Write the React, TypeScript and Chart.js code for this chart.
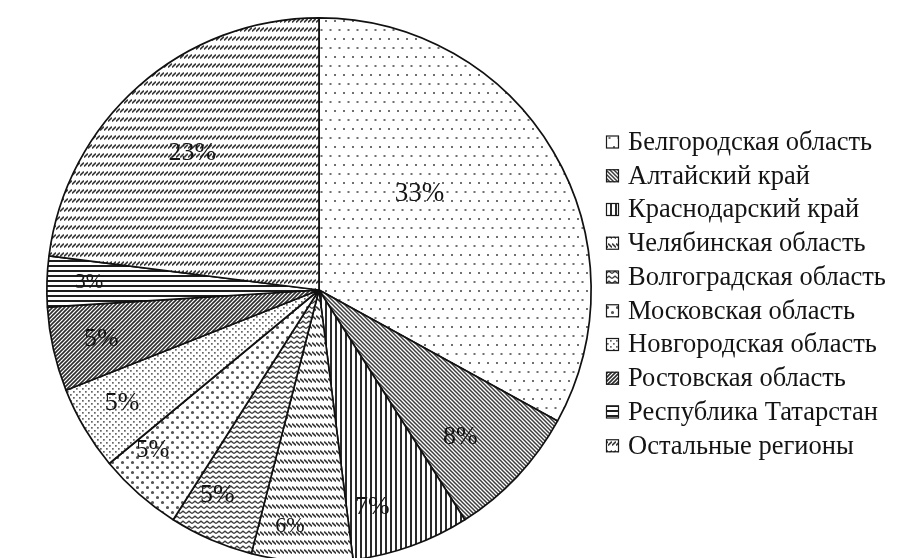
import React, { useEffect, useRef } from "react";
import { Chart, registerables } from "chart.js";

Chart.register(...registerables);

const categories = [
  "Белгородская область",
  "Алтайский край",
  "Краснодарский край",
  "Челябинская область",
  "Волгоградская область",
  "Московская область",
  "Новгородская область",
  "Ростовская область",
  "Республика Татарстан",
  "Остальные регионы",
];
const shares = [33, 8, 7, 6, 5, 5, 5, 5, 3, 23];
const shareLabels = ["33%", "8%", "7%", "6%", "5%", "5%", "5%", "5%", "3%", "23%"];

// label placement style (radial fraction, angle shift in degrees, font size)
const labelRadial = [0.51, 0.75, 0.82, 0.875, 0.84, 0.85, 0.835, 0.82, 0.845, 0.685];
const labelShift = [-13, 3, 6, 3.4, 3, 4.6, 0.6, 0, 0, -1.4];
const labelSize = [27, 26, 26, 22, 26, 25, 26, 26, 21, 26];

const SERIF = '"Liberation Serif", "Times New Roman", serif';

type Drawer = (c: CanvasRenderingContext2D) => void;

function tile(ctx: CanvasRenderingContext2D, w: number, h: number, draw: Drawer): CanvasPattern {
  const c = document.createElement("canvas");
  c.width = w;
  c.height = h;
  const x = c.getContext("2d")!;
  x.fillStyle = "#fff";
  x.fillRect(0, 0, w, h);
  draw(x);
  return ctx.createPattern(c, "repeat")!;
}

function diag(x: CanvasRenderingContext2D, s: number, back: boolean, color: string, lw: number) {
  x.strokeStyle = color;
  x.lineWidth = lw;
  x.beginPath();
  if (back) {
    x.moveTo(-1, -1); x.lineTo(s + 1, s + 1);
    x.moveTo(-1, s - 1); x.lineTo(1, s + 1);
    x.moveTo(s - 1, -1); x.lineTo(s + 1, 1);
  } else {
    x.moveTo(-1, s + 1); x.lineTo(s + 1, -1);
    x.moveTo(-1, 1); x.lineTo(1, -1);
    x.moveTo(s - 1, s + 1); x.lineTo(s + 1, s - 1);
  }
  x.stroke();
}

function makePatterns(ctx: CanvasRenderingContext2D): CanvasPattern[] {
  return [
    // Белгородская: sparse dots
    tile(ctx, 9, 18, (x) => {
      x.fillStyle = "#6f6f6f";
      x.fillRect(1, 2, 2, 2);
      x.fillRect(5.5, 11, 2, 2);
    }),
    // Алтайский: dense back diagonal
    tile(ctx, 4, 4, (x) => diag(x, 4, true, "#3e3e3e", 1.5)),
    // Краснодарский: vertical lines
    tile(ctx, 5, 2, (x) => {
      x.fillStyle = "#2a2a2a";
      x.fillRect(0, 0, 2, 2);
    }),
    // Челябинская: rows of "\" dashes
    tile(ctx, 4, 9, (x) => {
      x.strokeStyle = "#3a3a3a";
      x.lineWidth = 1.7;
      x.beginPath();
      x.moveTo(0, 0.5);
      x.lineTo(4, 4.5);
      x.stroke();
    }),
    // Волгоградская: zigzag
    tile(ctx, 6, 5, (x) => {
      x.strokeStyle = "#3a3a3a";
      x.lineWidth = 1.3;
      x.beginPath();
      x.moveTo(0, 3.6);
      x.lineTo(3, 1.2);
      x.lineTo(6, 3.6);
      x.stroke();
    }),
    // Московская: larger dots
    tile(ctx, 10, 10, (x) => {
      x.fillStyle = "#555";
      x.beginPath();
      x.arc(2.5, 2.5, 1.6, 0, Math.PI * 2);
      x.arc(7.5, 7.5, 1.6, 0, Math.PI * 2);
      x.fill();
    }),
    // Новгородская: small dense dots
    tile(ctx, 6, 6, (x) => {
      x.fillStyle = "#666";
      x.fillRect(1, 1, 1.7, 1.7);
      x.fillRect(4, 4, 1.7, 1.7);
    }),
    // Ростовская: dense forward diagonal
    tile(ctx, 4, 4, (x) => diag(x, 4, false, "#2e2e2e", 1.6)),
    // Татарстан: horizontal lines
    tile(ctx, 2, 5, (x) => {
      x.fillStyle = "#1e1e1e";
      x.fillRect(0, 0, 2, 2);
    }),
    // Остальные: rows of "/" dashes
    tile(ctx, 4, 9, (x) => {
      x.strokeStyle = "#3a3a3a";
      x.lineWidth = 1.7;
      x.beginPath();
      x.moveTo(0, 4.5);
      x.lineTo(4, 0.5);
      x.stroke();
    }),
  ];
}

const labelPlugin = {
  id: "sliceLabels",
  afterDatasetsDraw(chart: any) {
    const ctx = chart.ctx as CanvasRenderingContext2D;
    const meta = chart.getDatasetMeta(0);
    ctx.save();
    ctx.fillStyle = "#141414";
    ctx.textAlign = "center";
    ctx.textBaseline = "middle";
    meta.data.forEach((arc: any, i: number) => {
      const p = arc.getProps(["x", "y", "startAngle", "endAngle", "outerRadius"], true);
      const mid = (p.startAngle + p.endAngle) / 2 + (labelShift[i] * Math.PI) / 180;
      const r = p.outerRadius * labelRadial[i];
      ctx.font = `${labelSize[i]}px ${SERIF}`;
      ctx.fillText(shareLabels[i], p.x + Math.cos(mid) * r, p.y + Math.sin(mid) * r);
    });
    ctx.restore();
  },
};

const legendPlugin = {
  id: "patternLegend",
  afterDraw(chart: any) {
    const ctx = chart.ctx as CanvasRenderingContext2D;
    const bg = chart.data.datasets[0].backgroundColor as CanvasPattern[];
    const x0 = 606;
    const y0 = 142;
    const step = 33.75;
    const box = 13;
    ctx.save();
    ctx.font = `26.5px ${SERIF}`;
    ctx.textBaseline = "middle";
    ctx.textAlign = "left";
    chart.data.labels.forEach((label: string, i: number) => {
      const cy = y0 + i * step;
      ctx.fillStyle = bg[i];
      ctx.fillRect(x0, cy - box / 2, box, box);
      ctx.strokeStyle = "#1a1a1a";
      ctx.lineWidth = 1.2;
      ctx.strokeRect(x0 + 0.5, cy - box / 2 + 0.5, box - 1, box - 1);
      ctx.fillStyle = "#141414";
      ctx.fillText(label, 628, cy + 1);
    });
    ctx.restore();
  },
};

export default function App() {
  const ref = useRef<HTMLCanvasElement | null>(null);

  useEffect(() => {
    const canvas = ref.current!;
    const ctx = canvas.getContext("2d")!;
    const patterns = makePatterns(ctx);
    const chart = new Chart(canvas, {
      type: "pie",
      data: {
        labels: categories,
        datasets: [
          {
            data: shares,
            backgroundColor: patterns,
            borderColor: "#111",
            borderWidth: 1.7,
          },
        ],
      },
      options: {
        responsive: false,
        animation: false,
        devicePixelRatio: 1,
        layout: { padding: { left: 46, top: 17, right: 318, bottom: 17 } },
        plugins: {
          legend: { display: false },
          tooltip: { enabled: false },
        },
      },
      plugins: [labelPlugin, legendPlugin],
    });
    return () => chart.destroy();
  }, []);

  return (
    <div style={{ position: "fixed", left: 0, top: 0, width: 910, height: 558, overflow: "hidden", background: "#fff" }}>
      <canvas ref={ref} width={910} height={580} style={{ display: "block", width: 910, height: 580 }} />
    </div>
  );
}
